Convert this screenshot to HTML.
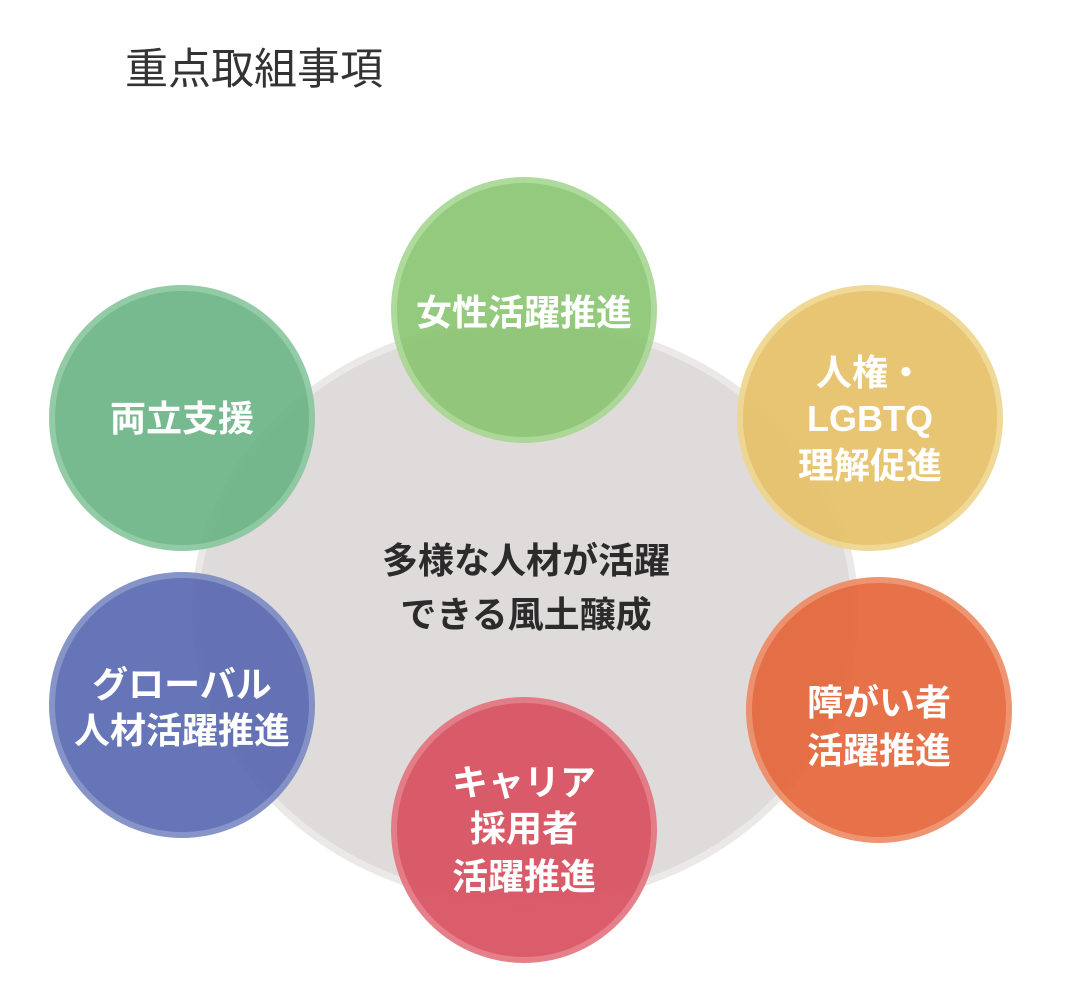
<!DOCTYPE html>
<html><head><meta charset="utf-8"><style>
html,body{margin:0;padding:0;background:#fff;}
body{width:1076px;height:998px;position:relative;overflow:hidden;font-family:"Liberation Sans","Noto Sans CJK JP",sans-serif;}
.t{position:absolute;left:125px;top:35px;font-size:43px;color:#333;letter-spacing:0px;}
svg{position:absolute;left:0;top:0;}
</style></head><body>
<div class="t">重点取組事項</div>
<svg width="1076" height="998" viewBox="0 0 1076 998">
<ellipse cx="525" cy="612" rx="330" ry="290" fill="#e0dbdb" stroke="#ebe8e8" stroke-width="7"/>
<g opacity="0.92">
<circle cx="524" cy="310" r="130" fill="#8cc673" stroke="#a8d793" stroke-width="6"/>
<circle cx="182" cy="418" r="130" fill="#6cb586" stroke="#8ac79f" stroke-width="6"/>
<circle cx="870" cy="418" r="130" fill="#e6c168" stroke="#efd58f" stroke-width="6"/>
<circle cx="182" cy="705" r="130" fill="#5a6ab2" stroke="#7d8bc4" stroke-width="6"/>
<circle cx="879" cy="710" r="130" fill="#e5663a" stroke="#ee8b64" stroke-width="6"/>
<circle cx="524" cy="830" r="130" fill="#d9505f" stroke="#e37682" stroke-width="6"/>
</g>
<g font-family="Liberation Sans, Noto Sans CJK JP, sans-serif" font-weight="bold" font-size="36" fill="#fff" text-anchor="middle">
<text x="524" y="325">女性活躍推進</text>
<text x="182" y="431">両立支援</text>
<text x="870" y="385">人権・</text>
<text x="870" y="431">LGBTQ</text>
<text x="870" y="478">理解促進</text>
<text x="182" y="697">グローバル</text>
<text x="182" y="743">人材活躍推進</text>
<text x="879" y="715">障がい者</text>
<text x="879" y="763">活躍推進</text>
<text x="524" y="795">キャリア</text>
<text x="524" y="841">採用者</text>
<text x="524" y="889">活躍推進</text>
</g>
<g font-family="Liberation Sans, Noto Sans CJK JP, sans-serif" font-weight="bold" font-size="36" fill="#2b2b2b" text-anchor="middle">
<text x="526" y="573">多様な人材が活躍</text>
<text x="526" y="627">できる風土醸成</text>
</g>
</svg>
</body></html>
